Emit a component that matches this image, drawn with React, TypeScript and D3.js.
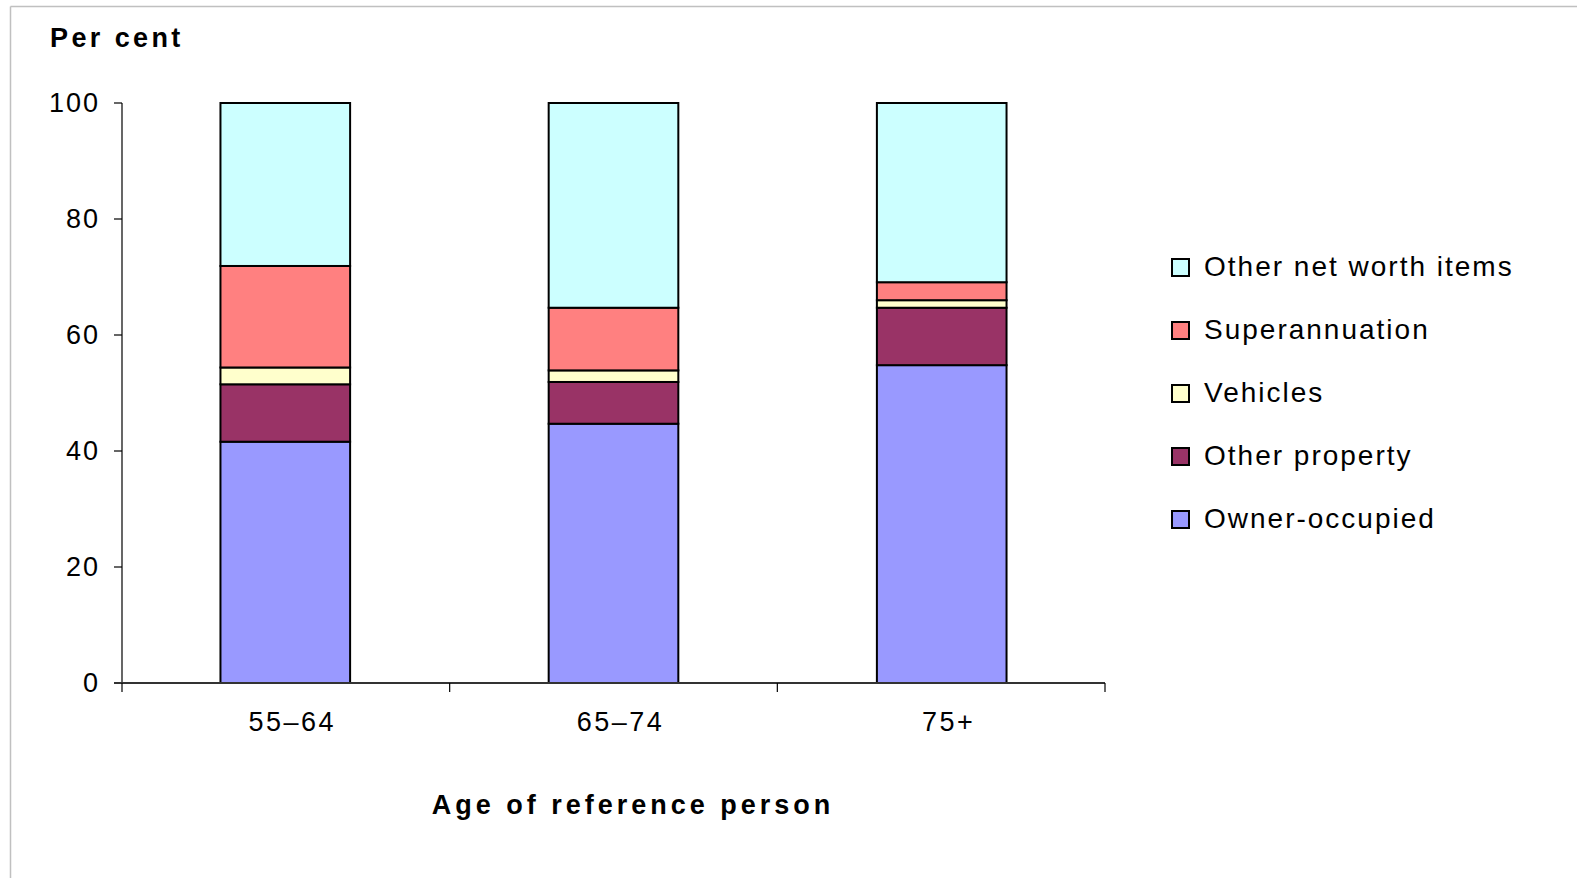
import React from "react";
import * as d3 from "d3";

// Age groups of the household reference person
const ageGroups = ["55–64", "65–74", "75+"];

// Share of net worth (per cent), bottom to top of each stack
const ownerOccupied = [41.6, 44.7, 54.8];
const otherProperty = [9.9, 7.2, 9.9];
const vehicles = [2.9, 2.0, 1.3];
const superannuation = [17.5, 10.8, 3.1];
const otherNetWorth = [28.1, 35.3, 30.9];

const seriesNames = [
  "Owner-occupied",
  "Other property",
  "Vehicles",
  "Superannuation",
  "Other net worth items",
];
const seriesValues = [ownerOccupied, otherProperty, vehicles, superannuation, otherNetWorth];
const seriesColors = ["#9999FF", "#993366", "#FFFFCC", "#FF8080", "#CCFFFF"];

const yTicks = [0, 20, 40, 60, 80, 100];

const W = 1577;
const H = 878;
const plot = { left: 122, right: 1105, top: 103, bottom: 683 };

export default function App() {
  const x = d3
    .scaleBand<string>()
    .domain(ageGroups)
    .range([plot.left, plot.right])
    .paddingInner(0.605)
    .paddingOuter(0.3);
  const xOuter = d3.scaleBand<string>().domain(ageGroups).range([plot.left, plot.right]);
  const y = d3.scaleLinear().domain([0, 100]).range([plot.bottom, plot.top]);

  const rows = ageGroups.map((g, i) => {
    const r: Record<string, number | string> = { group: g };
    seriesNames.forEach((s, k) => (r[s] = seriesValues[k][i]));
    return r;
  });
  const stacked = d3.stack<any>().keys(seriesNames)(rows);

  const boundaries = [...ageGroups.map((g) => xOuter(g)!), plot.right];

  const font = "'Liberation Sans', Arial, sans-serif";

  return (
    <svg
      width={W}
      height={H}
      style={{ position: "absolute", left: 0, top: 0, display: "block", background: "#fff" }}
    >
      {/* frame */}
      <line x1={10.5} y1={6.5} x2={W} y2={6.5} stroke="#c0c0c0" strokeWidth={1.5} />
      <line x1={10.5} y1={6.5} x2={10.5} y2={H} stroke="#c0c0c0" strokeWidth={1.5} />

      {/* y axis title */}
      <text x={50} y={47} fontFamily={font} fontWeight="bold" fontSize={27} letterSpacing={3.4} fill="#000">
        Per cent
      </text>

      {/* bars */}
      {stacked.map((layer, k) => (
        <g key={seriesNames[k]}>
          {layer.map((d, i) => (
            <rect
              key={i}
              x={x(ageGroups[i])!}
              y={y(d[1])}
              width={x.bandwidth()}
              height={y(d[0]) - y(d[1])}
              fill={seriesColors[k]}
              stroke="#000"
              strokeWidth={2}
            />
          ))}
        </g>
      ))}

      {/* y axis */}
      <line x1={plot.left} y1={plot.top} x2={plot.left} y2={plot.bottom} stroke="#000" strokeWidth={1.2} />
      {yTicks.map((t) => (
        <g key={t}>
          <line x1={plot.left - 8} x2={plot.left} y1={y(t)} y2={y(t)} stroke="#000" strokeWidth={1.2} />
          <text
            x={100}
            y={y(t)}
            dy="0.35em"
            textAnchor="end"
            fontFamily={font}
            fontSize={27}
            letterSpacing={2}
            fill="#000"
          >
            {t}
          </text>
        </g>
      ))}

      {/* x axis */}
      <line x1={plot.left - 8} x2={plot.right} y1={plot.bottom} y2={plot.bottom} stroke="#333" strokeWidth={2} />
      {boundaries.map((b, i) => (
        <line key={i} x1={b} x2={b} y1={plot.bottom} y2={plot.bottom + 9} stroke="#000" strokeWidth={1.2} />
      ))}
      {ageGroups.map((g) => (
        <text
          key={g}
          x={x(g)! + x.bandwidth() / 2 + 7}
          y={731}
          textAnchor="middle"
          fontFamily={font}
          fontSize={27}
          letterSpacing={2.5}
          fill="#000"
        >
          {g}
        </text>
      ))}
      <text
        x={633}
        y={814}
        textAnchor="middle"
        fontFamily={font}
        fontWeight="bold"
        fontSize={27}
        letterSpacing={4}
        fill="#000"
      >
        Age of reference person
      </text>

      {/* legend, top entry is the top of the stack */}
      {seriesNames
        .map((s, k) => ({ s, k }))
        .reverse()
        .map(({ s, k }, row) => {
          const cy = 267.5 + row * 63;
          return (
            <g key={s}>
              <rect x={1172} y={cy - 8.5} width={17} height={17} fill={seriesColors[k]} stroke="#000" strokeWidth={2} />
              <text
                x={1204}
                y={cy}
                dy="0.3em"
                fontFamily={font}
                fontSize={28}
                letterSpacing={2}
                fill="#000"
              >
                {s}
              </text>
            </g>
          );
        })}
    </svg>
  );
}
